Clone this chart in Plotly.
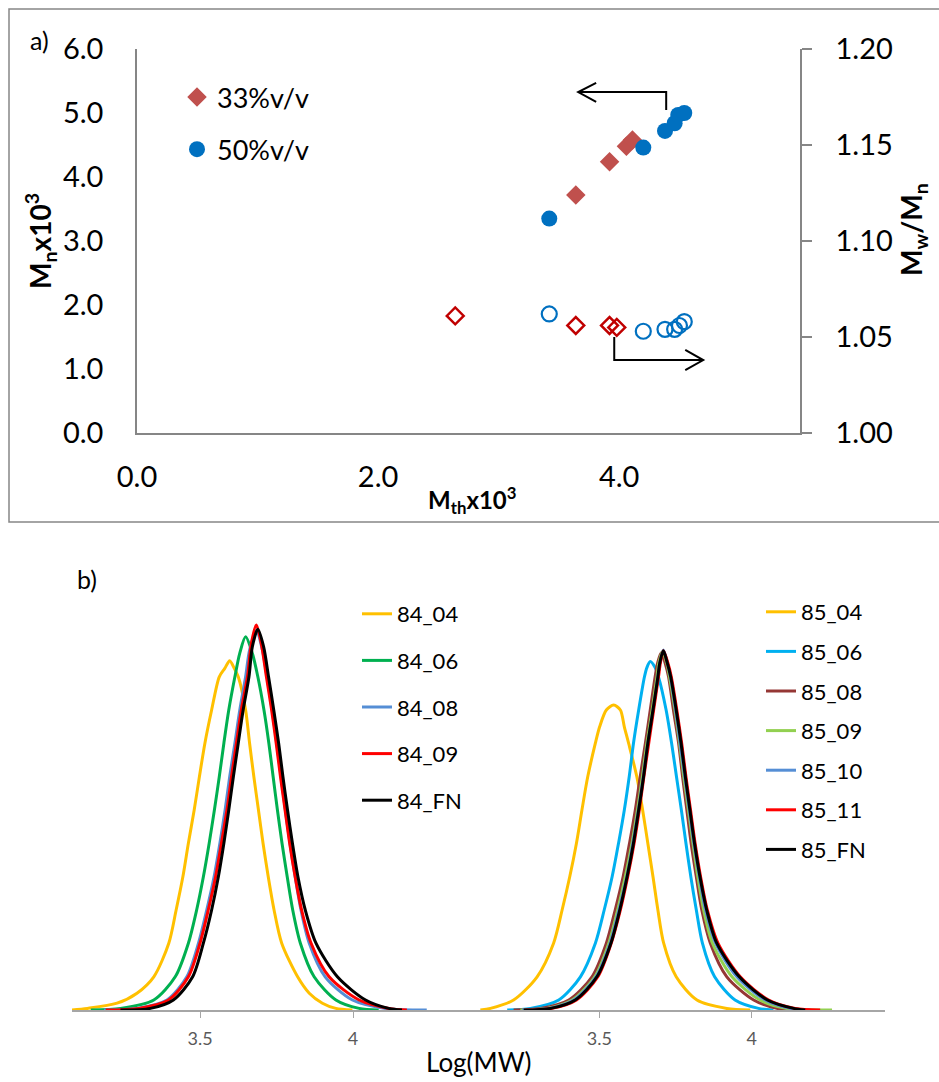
import plotly.graph_objects as go

# ---------------- Panel a) data ----------------
MTH_33 = [3.64, 3.92, 4.06, 4.11]
MN_33 = [3.72, 4.24, 4.48, 4.58]
MTH_33_PDI = [2.64, 3.64, 3.92, 3.98]
PDI_33 = [1.061, 1.056, 1.056, 1.055]

MTH_50 = [3.42, 4.20, 4.38, 4.46, 4.49, 4.54]
MN_50 = [3.35, 4.46, 4.72, 4.84, 4.97, 5.00]
MTH_50_PDI = [3.42, 4.20, 4.38, 4.46, 4.50, 4.54]
PDI_50 = [1.062, 1.053, 1.054, 1.054, 1.056, 1.058]

# ---------------- Panel b) data (Log(MW) vs normalised signal) ----------------
X_84_04 = [3.078, 3.132, 3.229, 3.294, 3.349, 3.398, 3.422, 3.444, 3.462, 3.481, 3.498, 3.516, 3.538, 3.563, 3.581,
           3.597, 3.612, 3.625, 3.649, 3.662, 3.676, 3.691, 3.706, 3.723, 3.742, 3.767, 3.819, 3.857, 3.900, 3.944, 3.998]
Y_84_04 = [0, 0.004, 0.017, 0.042, 0.083, 0.167, 0.25, 0.333, 0.417, 0.5, 0.583, 0.667, 0.75, 0.833, 0.854,
           0.873, 0.854, 0.833, 0.75, 0.667, 0.583, 0.5, 0.417, 0.333, 0.25, 0.167, 0.083, 0.042, 0.017, 0.004, 0]

X_84_06 = [3.143, 3.240, 3.349, 3.419, 3.462, 3.489, 3.511, 3.530, 3.547, 3.563, 3.578, 3.594, 3.614, 3.630,
           3.649, 3.671, 3.689, 3.709, 3.725, 3.739, 3.753, 3.768, 3.785, 3.803, 3.828, 3.873, 3.944, 4.020, 4.084]
Y_84_06 = [0, 0.004, 0.025, 0.083, 0.167, 0.25, 0.333, 0.417, 0.5, 0.583, 0.667, 0.75, 0.833, 0.892,
           0.933, 0.892, 0.833, 0.75, 0.667, 0.583, 0.5, 0.417, 0.333, 0.25, 0.167, 0.083, 0.025, 0.004, 0]

X_84_08 = [3.186, 3.294, 3.392, 3.457, 3.495, 3.522, 3.546, 3.565, 3.582, 3.597, 3.614, 3.630, 3.649, 3.662,
           3.684, 3.704, 3.719, 3.736, 3.751, 3.765, 3.779, 3.794, 3.811, 3.830, 3.857, 3.909, 3.998, 4.106, 4.241]
Y_84_08 = [0, 0.004, 0.025, 0.083, 0.167, 0.25, 0.333, 0.417, 0.5, 0.583, 0.667, 0.75, 0.833, 0.900,
           0.948, 0.900, 0.833, 0.75, 0.667, 0.583, 0.5, 0.417, 0.333, 0.25, 0.167, 0.083, 0.025, 0.004, 0]

X_84_09 = [3.192, 3.300, 3.397, 3.462, 3.500, 3.527, 3.551, 3.570, 3.588, 3.603, 3.619, 3.635, 3.655, 3.668,
           3.684, 3.700, 3.717, 3.734, 3.749, 3.763, 3.778, 3.793, 3.811, 3.832, 3.863, 3.922, 4.020, 4.117, 4.176]
Y_84_09 = [0, 0.004, 0.025, 0.083, 0.167, 0.25, 0.333, 0.417, 0.5, 0.583, 0.667, 0.75, 0.833, 0.917,
           0.9625, 0.917, 0.833, 0.75, 0.667, 0.583, 0.5, 0.417, 0.333, 0.25, 0.167, 0.083, 0.025, 0.004, 0]

X_84_FN = [3.240, 3.338, 3.413, 3.476, 3.511, 3.538, 3.560, 3.578, 3.594, 3.609, 3.625, 3.641, 3.660, 3.671,
           3.689, 3.708, 3.724, 3.741, 3.757, 3.771, 3.786, 3.802, 3.820, 3.844, 3.879, 3.949, 4.041, 4.117, 4.160]
Y_84_FN = [0, 0.004, 0.025, 0.083, 0.167, 0.25, 0.333, 0.417, 0.5, 0.583, 0.667, 0.75, 0.833, 0.908,
           0.952, 0.908, 0.833, 0.75, 0.667, 0.583, 0.5, 0.417, 0.333, 0.25, 0.167, 0.083, 0.025, 0.004, 0]

X_85_04 = [3.110, 3.143, 3.219, 3.296, 3.350, 3.378, 3.403, 3.425, 3.443, 3.462, 3.487, 3.501, 3.523,
           3.547, 3.569, 3.582, 3.596, 3.623, 3.642, 3.659, 3.676, 3.692, 3.711, 3.752, 3.820, 3.918, 3.995]
Y_85_04 = [0, 0.004, 0.025, 0.083, 0.167, 0.25, 0.333, 0.417, 0.5, 0.583, 0.667, 0.708, 0.75,
           0.7625, 0.75, 0.708, 0.667, 0.583, 0.5, 0.417, 0.333, 0.25, 0.167, 0.083, 0.025, 0.004, 0]

X_85_06 = [3.198, 3.274, 3.367, 3.438, 3.487, 3.516, 3.542, 3.563, 3.582, 3.598, 3.612, 3.629, 3.648, 3.656,
           3.667, 3.683, 3.694, 3.719, 3.737, 3.753, 3.769, 3.784, 3.800, 3.818, 3.838, 3.878, 3.945, 4.022, 4.071]
Y_85_06 = [0, 0.004, 0.025, 0.083, 0.167, 0.25, 0.333, 0.417, 0.5, 0.583, 0.667, 0.75, 0.833, 0.856,
           0.871, 0.856, 0.833, 0.75, 0.667, 0.583, 0.5, 0.417, 0.333, 0.25, 0.167, 0.083, 0.025, 0.004, 0]

X_85_08 = [3.219, 3.307, 3.400, 3.476, 3.523, 3.552, 3.578, 3.599, 3.618, 3.634, 3.651, 3.667, 3.683, 3.691,
           3.703, 3.716, 3.727, 3.743, 3.760, 3.773, 3.787, 3.801, 3.818, 3.836, 3.864, 3.918, 4.006, 4.082, 4.126]
Y_85_08 = [0, 0.004, 0.025, 0.083, 0.167, 0.25, 0.333, 0.417, 0.5, 0.583, 0.667, 0.75, 0.833, 0.867,
           0.893, 0.867, 0.833, 0.75, 0.667, 0.583, 0.5, 0.417, 0.333, 0.25, 0.167, 0.083, 0.025, 0.004, 0]

X_85_09 = [3.241, 3.329, 3.411, 3.485, 3.531, 3.560, 3.585, 3.607, 3.625, 3.641, 3.656, 3.673, 3.689, 3.695,
           3.707, 3.721, 3.730, 3.748, 3.763, 3.777, 3.792, 3.807, 3.823, 3.842, 3.871, 3.935, 4.027, 4.115, 4.263]
Y_85_09 = [0, 0.004, 0.025, 0.083, 0.167, 0.25, 0.333, 0.417, 0.5, 0.583, 0.667, 0.75, 0.833, 0.867,
           0.896, 0.867, 0.833, 0.75, 0.667, 0.583, 0.5, 0.417, 0.333, 0.25, 0.167, 0.083, 0.025, 0.004, 0]

X_85_10 = [3.247, 3.334, 3.416, 3.489, 3.535, 3.564, 3.590, 3.610, 3.628, 3.644, 3.659, 3.676, 3.692, 3.698,
           3.710, 3.723, 3.733, 3.750, 3.765, 3.780, 3.795, 3.810, 3.828, 3.848, 3.881, 3.951, 4.044, 4.126, 4.191]
Y_85_10 = [0, 0.004, 0.025, 0.083, 0.167, 0.25, 0.333, 0.417, 0.5, 0.583, 0.667, 0.75, 0.833, 0.867,
           0.900, 0.867, 0.833, 0.75, 0.667, 0.583, 0.5, 0.417, 0.333, 0.25, 0.167, 0.083, 0.025, 0.004, 0]

X_85_11 = [3.258, 3.345, 3.425, 3.495, 3.539, 3.569, 3.593, 3.614, 3.631, 3.646, 3.662, 3.678, 3.694, 3.700,
           3.710, 3.725, 3.736, 3.754, 3.770, 3.784, 3.799, 3.814, 3.832, 3.854, 3.889, 3.962, 4.055, 4.142, 4.224]
Y_85_11 = [0, 0.004, 0.025, 0.083, 0.167, 0.25, 0.333, 0.417, 0.5, 0.583, 0.667, 0.75, 0.833, 0.867,
           0.898, 0.867, 0.833, 0.75, 0.667, 0.583, 0.5, 0.417, 0.333, 0.25, 0.167, 0.083, 0.025, 0.004, 0]

X_85_FN = [3.252, 3.340, 3.421, 3.492, 3.538, 3.567, 3.591, 3.612, 3.629, 3.645, 3.659, 3.676, 3.692, 3.698,
           3.710, 3.723, 3.734, 3.752, 3.768, 3.782, 3.797, 3.812, 3.830, 3.852, 3.885, 3.959, 4.051, 4.137, 4.175]
Y_85_FN = [0, 0.004, 0.025, 0.083, 0.167, 0.25, 0.333, 0.417, 0.5, 0.583, 0.667, 0.75, 0.833, 0.867,
           0.898, 0.867, 0.833, 0.75, 0.667, 0.583, 0.5, 0.417, 0.333, 0.25, 0.167, 0.083, 0.025, 0.004, 0]

SERIES_84 = [("84_04", X_84_04, Y_84_04, "#FFC000"),
             ("84_06", X_84_06, Y_84_06, "#00B050"),
             ("84_08", X_84_08, Y_84_08, "#558ED5"),
             ("84_09", X_84_09, Y_84_09, "#FF0000"),
             ("84_FN", X_84_FN, Y_84_FN, "#000000")]
SERIES_85 = [("85_04", X_85_04, Y_85_04, "#FFC000"),
             ("85_06", X_85_06, Y_85_06, "#00B0F0"),
             ("85_08", X_85_08, Y_85_08, "#953735"),
             ("85_09", X_85_09, Y_85_09, "#92D050"),
             ("85_10", X_85_10, Y_85_10, "#558ED5"),
             ("85_11", X_85_11, Y_85_11, "#FF0000"),
             ("85_FN", X_85_FN, Y_85_FN, "#000000")]

FONT = "Lato, 'Open Sans', sans-serif"
W, H = 939, 1082


def px(xp):
    return xp / W


def py(yp):
    return 1 - yp / H


fig = go.Figure()

# ---- panel a) ----
fig.add_trace(go.Scatter(x=MTH_33_PDI, y=PDI_33, yaxis="y2", mode="markers", showlegend=False,
                         marker=dict(symbol="diamond-open", size=13, color="#C00000", line=dict(width=2.5))))
fig.add_trace(go.Scatter(x=MTH_50_PDI, y=PDI_50, yaxis="y2", mode="markers", showlegend=False,
                         marker=dict(symbol="circle-open", size=15, color="#0070C0", line=dict(width=2.2))))
fig.add_trace(go.Scatter(x=MTH_33, y=MN_33, mode="markers", name="33%v/v", legend="legend", legendgroup="g33",
                         marker=dict(symbol="diamond", size=15, color="#C0504D", line=dict(width=0))))
fig.add_trace(go.Scatter(x=MTH_50, y=MN_50, mode="markers", name="50%v/v", legend="legend", legendgroup="g50",
                         marker=dict(symbol="circle", size=16, color="#0070C0", line=dict(width=0))))

# ---- panel b) ----
for name, xs, ys, col in SERIES_84:
    fig.add_trace(go.Scatter(x=xs, y=ys, xaxis="x3", yaxis="y3", mode="lines", name=name,
                             legend="legend2", legendgroup=name,
                             line=dict(color=col, width=3, shape="spline", smoothing=0.8)))
for name, xs, ys, col in SERIES_85:
    fig.add_trace(go.Scatter(x=xs, y=ys, xaxis="x4", yaxis="y4", mode="lines", name=name,
                             legend="legend3", legendgroup=name,
                             line=dict(color=col, width=3, shape="spline", smoothing=0.8)))

AX_GRAY = "#868686"
big = dict(family=FONT, size=29, color="black")
small = dict(family=FONT, size=18, color="#595959")

fig.update_layout(
    width=W, height=H, margin=dict(l=0, r=0, t=0, b=0, autoexpand=False),
    paper_bgcolor="white", plot_bgcolor="white",
    font=dict(family=FONT, color="black"),
    xaxis=dict(domain=[px(137), px(800)], range=[0, 5.5], dtick=2, tick0=0, tickformat=".1f",
               showline=True, linecolor=AX_GRAY, linewidth=1.5, ticks="", showgrid=False, zeroline=False,
               tickfont=big, ticklabelstandoff=17, anchor="y", automargin=False),
    yaxis=dict(domain=[py(433), py(49)], range=[0, 6], dtick=1, tickformat=".1f",
               showline=True, linecolor=AX_GRAY, linewidth=1.5, ticks="", showgrid=False, zeroline=False,
               tickfont=big, ticklabelstandoff=26, anchor="x", automargin=False),
    yaxis2=dict(overlaying="y", side="right", range=[1.0, 1.2], dtick=0.05, tickformat=".2f",
                showline=True, linecolor=AX_GRAY, linewidth=1.5, ticks="outside", ticklen=10,
                tickcolor=AX_GRAY, tickwidth=1.5, showgrid=False, zeroline=False,
                tickfont=big, ticklabelstandoff=18, anchor="x", automargin=False),
    xaxis3=dict(domain=[px(72), px(480)], range=[3.0817, 4.415], tickvals=[3.5, 4], ticktext=["3.5", "4"],
                showline=True, linecolor="#A6A6A6", linewidth=1.5, ticks="outside", ticklen=6,
                tickcolor="#A6A6A6", showgrid=False, zeroline=False, automargin=False,
                tickfont=small, ticklabelstandoff=6, anchor="y3"),
    yaxis3=dict(domain=[py(1010), py(610)], range=[0, 1], visible=False, anchor="x3", automargin=False),
    xaxis4=dict(domain=[px(480), px(885)], range=[3.1088, 4.4366], tickvals=[3.5, 4], ticktext=["3.5", "4"],
                showline=True, linecolor="#A6A6A6", linewidth=1.5, ticks="outside", ticklen=6,
                tickcolor="#A6A6A6", showgrid=False, zeroline=False, automargin=False,
                tickfont=small, ticklabelstandoff=6, anchor="y4"),
    yaxis4=dict(domain=[py(1010), py(610)], range=[0, 1], visible=False, anchor="x4", automargin=False),
    legend=dict(x=px(177), y=py(73), xanchor="left", yanchor="top", bgcolor="rgba(0,0,0,0)",
                font=dict(family=FONT, size=27, color="black"), tracegroupgap=14, itemsizing="trace"),
    legend2=dict(x=px(357), y=py(593), xanchor="left", yanchor="top", bgcolor="rgba(0,0,0,0)",
                 font=dict(family=FONT, size=22, color="black"), tracegroupgap=15),
    legend3=dict(x=px(761), y=py(591), xanchor="left", yanchor="top", bgcolor="rgba(0,0,0,0)",
                 font=dict(family=FONT, size=22, color="black"), tracegroupgap=8),
)

# frame around panel a)
fig.add_shape(type="rect", xref="paper", yref="paper", x0=px(9), y0=py(522), x1=1.02, y1=py(9),
              line=dict(color=AX_GRAY, width=1.5), layer="below")

# arrows (annotation graphics) in panel a)
arrow = dict(color="black", width=2)
fig.add_shape(type="path", xref="x", yref="y", path="M 4.39,5.047 L 4.39,5.328 L 3.66,5.328", line=arrow)
fig.add_shape(type="path", xref="x", yref="y", path="M 3.809,5.469 L 3.66,5.328 L 3.809,5.172", line=arrow)
fig.add_shape(type="path", xref="x", yref="y", path="M 3.959,1.5 L 3.959,1.14 L 4.697,1.14", line=arrow)
fig.add_shape(type="path", xref="x", yref="y", path="M 4.548,1.297 L 4.697,1.14 L 4.548,0.984", line=arrow)

ann = [
    dict(text="a)", x=px(39), y=py(40), font=dict(family=FONT, size=25, color="black")),
    dict(text="b)", x=px(87), y=py(579), font=dict(family=FONT, size=25, color="black")),
    dict(text="<b>M<sub>n</sub>x10<sup>3</sup></b>", x=px(40), y=py(241), textangle=-90,
         font=dict(family=FONT, size=28, color="black")),
    dict(text="<b>M<sub>w</sub>/M<sub>n</sub></b>", x=px(913), y=py(230), textangle=-90,
         font=dict(family=FONT, size=28, color="black")),
    dict(text="<b>M<sub>th</sub>x10<sup>3</sup></b>", x=px(472), y=py(500),
         font=dict(family=FONT, size=24, color="black")),
    dict(text="Log(MW)", x=px(479), y=py(1062), font=dict(family=FONT, size=26, color="black")),
]
for a in ann:
    fig.add_annotation(xref="paper", yref="paper", showarrow=False, xanchor="center", yanchor="middle", **a)

fig.write_html("out.html")
